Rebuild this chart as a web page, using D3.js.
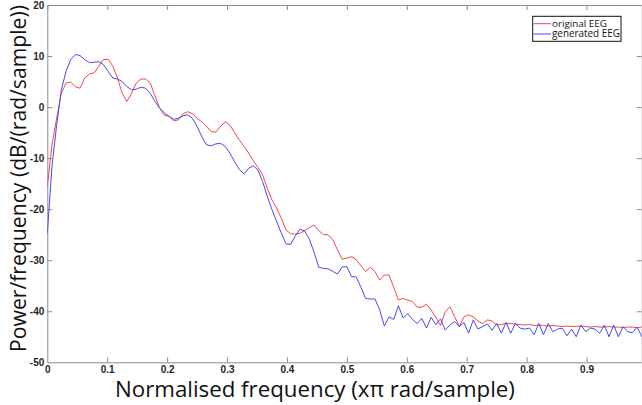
<!DOCTYPE html>
<html><head><meta charset="utf-8">
<script src="https://cdn.jsdelivr.net/npm/d3@7"></script>
<style>html,body{margin:0;padding:0;background:#fff;overflow:hidden;}</style>
</head><body>
<svg id="c" width="642" height="405"></svg>
<script>
// frequency bins (xπ rad/sample): 128 bins of a 256-point periodogram
const nBins = 128;
const freq = d3.range(nBins).map(i => i / nBins);

const originalEEG = [
 -15.6,-7.4,-2.2,2.7,4.7,4.9,4.0,3.7,5.7,6.5,
 6.7,8.0,9.3,9.4,8.0,5.7,2.7,1.1,2.7,4.7,
 5.5,5.5,4.7,2.2,-0.2,-1.6,-1.8,-2.7,-2.5,-1.3,
 -0.9,-1.3,-2.2,-2.9,-3.7,-4.8,-4.9,-3.8,-2.9,-3.5,
 -5.0,-6.4,-7.7,-9.0,-10.5,-11.8,-13.3,-15.9,-18.2,-19.8,
 -21.8,-24.1,-24.8,-24.9,-24.7,-24.2,-23.6,-23.1,-24.2,-25.0,
 -25.0,-26.0,-28.0,-29.8,-29.6,-29.3,-29.9,-31.1,-32.2,-31.4,
 -32.2,-33.9,-32.9,-32.9,-35.3,-37.8,-37.5,-37.8,-38.1,-39.2,
 -39.2,-38.6,-39.8,-41.2,-42.8,-40.1,-39.1,-41.0,-43.0,-41.1,
 -40.7,-41.1,-41.9,-42.4,-41.7,-41.9,-42.7,-42.6,-42.4,-42.4,
 -42.5,-42.6,-42.7,-42.6,-42.8,-42.7,-42.8,-42.9,-42.8,-42.9,
 -43.0,-42.9,-43.0,-43.0,-42.9,-43.0,-43.1,-43.0,-43.1,-43.1,
 -43.0,-43.1,-43.1,-43.2,-43.1,-43.1,-43.2,-43.1
];
const generatedEEG = [
 -24.8,-11.6,-3.5,3.4,7.0,9.3,10.3,10.1,9.3,8.7,
 8.8,8.9,8.3,7.0,5.7,5.5,5.0,4.0,3.4,3.5,
 3.9,3.7,2.7,1.1,-0.2,-1.1,-1.8,-2.4,-2.2,-1.7,
 -1.5,-2.2,-3.8,-5.8,-7.4,-7.6,-7.2,-7.1,-7.7,-9.0,
 -10.7,-12.2,-13.1,-12.0,-11.5,-12.3,-14.6,-17.5,-20.1,-22.4,
 -24.7,-26.8,-26.9,-25.2,-23.9,-24.3,-25.9,-28.5,-31.4,-31.6,
 -31.7,-32.2,-32.7,-31.3,-31.3,-33.2,-33.3,-35.3,-37.5,-37.6,
 -37.6,-39.7,-42.9,-41.1,-41.6,-38.9,-41.3,-40.5,-41.6,-42.4,
 -41.4,-43.3,-41.2,-42.6,-41.5,-43.7,-42.7,-42.0,-43.0,-42.2,
 -44.3,-41.7,-43.5,-43.0,-42.5,-43.7,-42.4,-44.3,-42.2,-44.3,
 -42.4,-43.3,-43.5,-43.3,-44.6,-42.4,-44.6,-42.4,-44.0,-43.5,
 -43.3,-44.8,-43.5,-45.0,-42.7,-44.0,-43.3,-43.5,-44.3,-42.7,
 -45.0,-42.7,-45.0,-43.0,-44.0,-44.2,-43.1,-45.0
];

const xTicks = [0,0.1,0.2,0.3,0.4,0.5,0.6,0.7,0.8,0.9];
const xTickLabels = ["0","0.1","0.2","0.3","0.4","0.5","0.6","0.7","0.8","0.9"];
const yTicks = [-50,-40,-30,-20,-10,0,10,20];
const yTickLabels = ["-50","-40","-30","-20","-10","0","10","20"];
const seriesNames = ["original EEG","generated EEG"];
const seriesColors = ["#f04848","#4848f0"];
const xLabel = "Normalised frequency (x\u03c0 rad/sample)";
const yLabel = "Power/frequency (dB/(rad/sample))";

const svg = d3.select("#c");
const L = 47.3, R = 641.8, T = 5, B = 362.3;
const x = d3.scaleLinear().domain([0, freq[freq.length-1]]).range([L, R]);
const y = d3.scaleLinear().domain([-50, 20]).range([B, T]);

const axisColor = "#8c8c8c";
const tickFont = "bold 10px 'Liberation Sans', Arial, sans-serif";

// bottom axis
const gx = svg.append("g").attr("transform", `translate(0,${B})`)
  .call(d3.axisBottom(x).tickValues(xTicks).tickFormat((d,i)=>xTickLabels[i]).tickSizeInner(-5).tickSizeOuter(0).tickPadding(4));
// top axis
const gxt = svg.append("g").attr("transform", `translate(0,${T})`)
  .call(d3.axisTop(x).tickValues(xTicks).tickFormat("").tickSizeInner(-5).tickSizeOuter(0));
// left axis
const gy = svg.append("g").attr("transform", `translate(${L},0)`)
  .call(d3.axisLeft(y).tickValues(yTicks).tickFormat((d,i)=>yTickLabels[i]).tickSizeInner(-5).tickSizeOuter(0).tickPadding(3));
// right axis
const gyr = svg.append("g").attr("transform", `translate(${R},0)`)
  .call(d3.axisRight(y).tickValues(yTicks).tickFormat("").tickSizeInner(-5).tickSizeOuter(0));

[gx,gxt,gy,gyr].forEach(g=>{
  g.select(".domain").attr("stroke", axisColor);
  g.selectAll(".tick line").attr("stroke", axisColor);
  g.selectAll("text").style("font", tickFont).attr("fill", "#262626");
});
gx.selectAll(".tick").filter(d=>d===0).select("line").remove();
gy.selectAll(".tick").filter(d=>d===-50||d===20).select("line").remove();
gyr.selectAll(".tick").filter(d=>d===-50||d===20).select("line").remove();

// plot lines
const clip = svg.append("clipPath").attr("id","clip").append("rect")
  .attr("x",L).attr("y",T).attr("width",R-L).attr("height",B-T);
const line = d3.line().x((d,i)=>x(freq[i])).y(d=>y(d));
const plot = svg.append("g").attr("clip-path","url(#clip)");
[originalEEG, generatedEEG].forEach((s,k)=>{
  plot.append("path").datum(s).attr("d", line)
    .attr("fill","none").attr("stroke", seriesColors[k]).attr("stroke-width",1);
});

// axis labels
const labFont = "'Open Sans', 'Noto Sans', sans-serif";
function fitText(t, w){
  let fs = 20; t.style("font-size", fs+"px");
  const len = t.node().getComputedTextLength();
  fs = fs * w / len; t.style("font-size", fs+"px");
}
const xl = svg.append("text").attr("x", 315).attr("y", 396.5)
  .attr("text-anchor","middle").style("font-family", labFont).attr("fill","#111").text(xLabel);
fitText(xl, 400);
const yl = svg.append("text").attr("transform","translate(26,178.5) rotate(-90)")
  .attr("text-anchor","middle").style("font-family", labFont).attr("fill","#111").text(yLabel);
fitText(yl, 347);

// legend
const lg = svg.append("g");
lg.append("rect").attr("x",532.7).attr("y",16.3).attr("width",88.3).attr("height",25)
  .attr("fill","#fff").attr("stroke","#111").attr("stroke-width",1);
seriesNames.forEach((n,k)=>{
  const yy = 23.7 + k*10.3;
  lg.append("line").attr("x1",533.5).attr("x2",551).attr("y1",yy).attr("y2",yy)
    .attr("stroke", seriesColors[k]).attr("stroke-width",1);
  const t = lg.append("text").attr("x",552).attr("y",yy+3.3).attr("fill","#111")
    .style("font-family", labFont).text(n);
  fitText(t, k===0 ? 55 : 68);
});
</script>
</body></html>
